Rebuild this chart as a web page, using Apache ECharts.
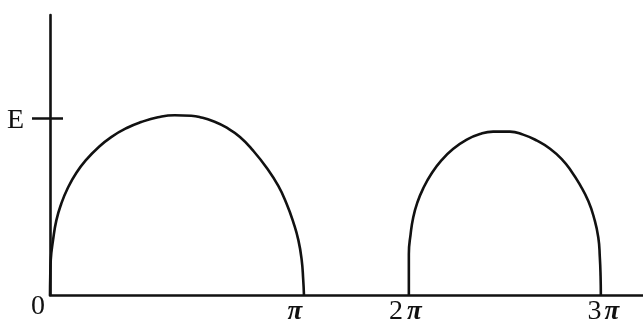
<!DOCTYPE html>
<html>
<head>
<meta charset="utf-8">
<script src="https://cdn.jsdelivr.net/npm/echarts@6.0.0/dist/echarts.min.js"></script>
<style>
  html, body { margin: 0; padding: 0; background: #fff; }
  #chart { width: 643px; height: 326px; }
</style>
</head>
<body>
<div id="chart"></div>
<script>
// x in units of the 0..pi span of the sketch, y in units of E
var xTickValues = [1, 1.413, 2.169];
var xTickLabels = ['π', '2π', '3π'];
var yTickValues = [0, 1];
var yTickLabels = ['0', 'E'];

var arch1X = [0, 0.001, 0.003, 0.012, 0.025, 0.044, 0.071, 0.104, 0.143, 0.189, 0.241, 0.300, 0.359, 0.425, 0.491,
    0.556, 0.591, 0.643, 0.696, 0.748, 0.800, 0.853, 0.899, 0.932, 0.958, 0.978, 0.991, 0.997, 1.0];
var arch1Y = [0, 0.106, 0.199, 0.311, 0.423, 0.516, 0.609, 0.693, 0.767, 0.835, 0.895, 0.945, 0.980, 1.007, 1.019,
    1.016, 1.008, 0.985, 0.948, 0.896, 0.818, 0.721, 0.618, 0.516, 0.413, 0.311, 0.199, 0.088, 0];

var arch2X = [1.413, 1.413, 1.413, 1.420, 1.430, 1.446, 1.470, 1.503, 1.542, 1.588, 1.641, 1.693, 1.745, 1.811, 1.863, 1.916,
    1.969, 2.015, 2.054, 2.087, 2.120, 2.142, 2.159, 2.165, 2.168, 2.169];
var arch2Y = [0, 0.121, 0.233, 0.345, 0.438, 0.522, 0.606, 0.690, 0.764, 0.829, 0.881, 0.913, 0.926, 0.926, 0.909, 0.876,
    0.829, 0.770, 0.699, 0.624, 0.531, 0.438, 0.326, 0.214, 0.103, 0];

function pairs(xs, ys) {
    var res = [];
    for (var i = 0; i < xs.length; i++) {
        res.push([xs[i], ys[i]]);
    }
    return res;
}

var ink = '#111';
var serif = '"Liberation Serif", "DejaVu Serif", serif';

var chart = echarts.init(document.getElementById('chart'), null, {renderer: 'canvas'});

var piStyle = {fontFamily: serif, fontStyle: 'italic', fontWeight: 'bold', fontSize: 27, color: ink, lineHeight: 28};
var numStyle = {fontFamily: serif, fontSize: 28, color: ink, lineHeight: 28};

var option = {
    animation: false,
    backgroundColor: '#fff',
    grid: {left: 50, right: 0, top: 15, bottom: 27, containLabel: false},
    xAxis: {
        type: 'value',
        min: 0,
        max: 2.335,
        splitLine: {show: false},
        axisLine: {lineStyle: {color: ink, width: 2.6}},
        axisTick: {show: false},
        axisLabel: {
            customValues: xTickValues,
            margin: 3,
            verticalAlign: 'top',
            formatter: function (v) {
                var i = xTickValues.indexOf(v);
                if (i < 0) return '';
                var t = xTickLabels[i];
                var key = ['a', 'b', 'c'][i];
                var num = t.length > 1 ? t.charAt(0) : '';
                return (num ? '{' + key + 'n|' + num + '}' : '') + '{' + key + '|π}';
            },
            rich: {
                a: Object.assign({}, piStyle, {padding: [0, 18, 0, 0]}),
                b: Object.assign({}, piStyle, {padding: [0, 7, 0, 0]}),
                bn: Object.assign({}, numStyle, {padding: [0, 4, 0, 0]}),
                c: Object.assign({}, piStyle),
                cn: Object.assign({}, numStyle, {padding: [0, 3, 0, 5]})
            }
        }
    },
    yAxis: [
        {
            type: 'value',
            min: 0,
            max: 1.587,
            splitLine: {show: false},
            axisLine: {lineStyle: {color: ink, width: 2.6}},
            axisTick: {customValues: [1], length: 18, lineStyle: {color: ink, width: 2.5}},
            axisLabel: {
                customValues: yTickValues,
                margin: 5,
                formatter: function (v) {
                    var i = yTickValues.indexOf(v);
                    return i === 0 ? '{z|' + yTickLabels[0] + '}' : '{e|' + yTickLabels[1] + '}';
                },
                rich: {
                    z: {fontFamily: serif, fontSize: 28, color: ink, padding: [24, 0, 0, 0]},
                    e: {fontFamily: serif, fontSize: 28, color: ink, padding: [4, 21, 0, 0]}
                }
            }
        },
        {
            type: 'value',
            min: 0,
            max: 1.587,
            position: 'left',
            splitLine: {show: false},
            axisLine: {show: false},
            axisTick: {show: true, inside: true, customValues: [1], length: 13, lineStyle: {color: ink, width: 2.5}},
            axisLabel: {show: false}
        }
    ],
    series: [
        {
            name: 'arch1',
            type: 'line',
            data: pairs(arch1X, arch1Y),
            smooth: 0.5,
            showSymbol: false,
            clip: false,
            lineStyle: {color: ink, width: 2.6}
        },
        {
            name: 'arch2',
            type: 'line',
            data: pairs(arch2X, arch2Y),
            smooth: 0.5,
            showSymbol: false,
            clip: false,
            lineStyle: {color: ink, width: 2.6}
        }
    ]
};

chart.setOption(option);
</script>
</body>
</html>
